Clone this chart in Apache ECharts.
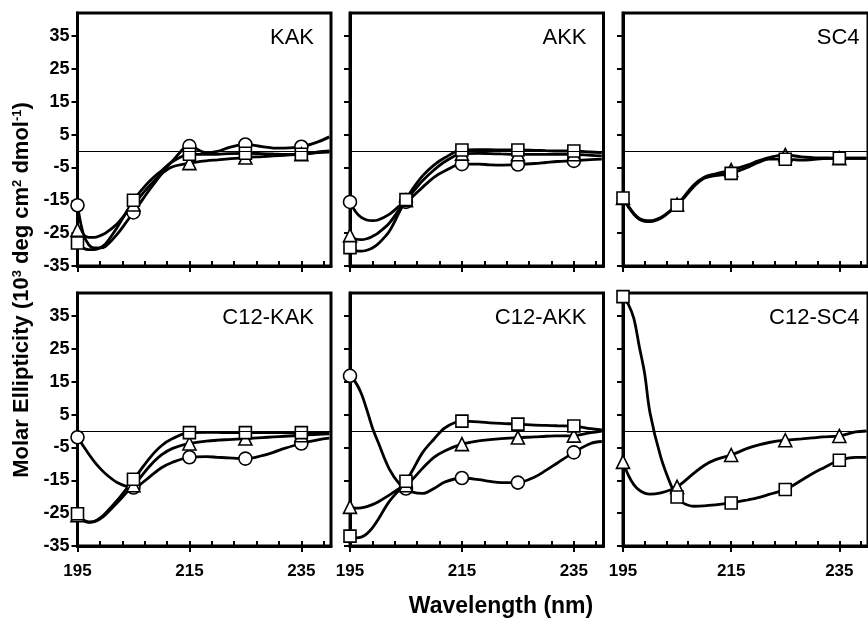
<!DOCTYPE html>
<html><head><meta charset="utf-8">
<script src="https://cdn.jsdelivr.net/npm/echarts@6/dist/echarts.min.js"></script>
<style>html,body{margin:0;padding:0;background:#fff}#c{width:868px;height:619px}</style>
</head><body><div id="c"></div>
<script>
// ---- data (10^3 deg cm^2 dmol^-1) ----
const wavelengths = [195,196,197,198,199,200,202,204,205,206,208,210,212,215,218,220,222,225,228,230,232,235,238,240];
const markerWavelengths = [195,205,215,225,235];

const kakCircle   = [-16.5,-25,-28.5,-29.5,-29.5,-29,-25.5,-21,-18.7,-16.3,-11.5,-7,-3,1.5,-0.5,-0.1,1,2,1.3,0.9,0.9,1.3,2.8,4.3];
const kakTriangle = [-24,-25.5,-26.3,-26.3,-25.8,-25,-22.3,-18.3,-16.3,-14.3,-10.3,-7,-4.8,-3.7,-3,-2.7,-2.4,-2,-1.7,-1.5,-1.3,-1,-0.5,-0.3];
const kakSquare   = [-28,-29.5,-30,-30,-29.5,-28.3,-23.5,-17.8,-15,-12.8,-9,-6,-3.2,-1,-1,-1,-0.8,-0.7,-0.8,-0.9,-1,-1,-0.3,0];

const akkCircle   = [-15.5,-18.5,-20.2,-21,-21.2,-21,-19.3,-16.5,-15.5,-14.2,-11,-8,-6,-4,-4,-4.2,-4.3,-4.1,-3.8,-3.5,-3.2,-3,-2.6,-2.5];
const akkTriangle = [-25.7,-26.8,-27,-26.7,-26,-25,-22,-17.3,-15,-13,-9,-5.8,-3.2,-0.8,-0.7,-0.8,-0.9,-1,-1,-1,-1,-1,-1.3,-1.5];
const akkSquare   = [-29.4,-30.3,-30.5,-30.2,-29.5,-28.3,-24.5,-18,-14.8,-12,-7.5,-4.3,-2,0.3,0.4,0.4,0.3,0.3,0.2,0.1,0,0,-0.3,-0.5];

const sc4Triangle = [-14.3,-16.8,-19,-20.5,-21.1,-21.2,-20.2,-17.8,-16.3,-14.5,-10.5,-8,-7,-5.8,-4.3,-3,-2,-1.2,-1.8,-2,-2.1,-2.2,-2.2,-2.2];
const sc4Square   = [-14.3,-17,-19.3,-20.8,-21.4,-21.5,-20.5,-18,-16.5,-14.8,-11,-8.3,-7.5,-6.8,-5,-3.5,-2.5,-2.5,-2.8,-2.6,-2.3,-2.2,-2.2,-2.2];

const c12KakCircle   = [-1.9,-4.5,-7,-9.3,-11.3,-13,-15.6,-17,-17.2,-16.5,-13.8,-11.2,-9.5,-8,-7.8,-8,-8.2,-8.4,-7.5,-6.5,-5.3,-3.8,-2.7,-2.2];
const c12KakTriangle = [-25.6,-27.2,-27.8,-27.6,-26.8,-25.5,-22,-18.3,-16.5,-14.6,-10.5,-7.3,-5.3,-3.8,-3.1,-2.8,-2.6,-2.3,-2,-1.8,-1.6,-1.3,-1,-0.9];
const c12KakSquare   = [-25.2,-27,-27.7,-27.5,-26.5,-25,-21.3,-17,-14.7,-12.5,-8,-4.5,-2.3,-0.5,-0.4,-0.4,-0.5,-0.5,-0.5,-0.5,-0.5,-0.5,-0.4,-0.4];

const c12AkkCircle   = [16.8,14.8,11.5,6.5,1,-3.3,-11.5,-16.5,-17.5,-18.5,-19,-17.5,-15.5,-14.3,-14.8,-15.3,-15.7,-15.7,-14,-12,-9.8,-6.5,-3.8,-3.2];
const c12AkkTriangle = [-23.1,-23.5,-23.4,-23,-22.4,-21.6,-19.5,-17.3,-16.5,-15,-11.3,-8,-6,-4,-3,-2.6,-2.3,-2,-1.8,-1.6,-1.5,-1.4,-0.5,0];
const c12AkkSquare   = [-32,-32.5,-32.3,-31.3,-29.5,-27,-21.5,-17.5,-15.3,-12.5,-6.5,-2.5,1,3,2.8,2.5,2.3,2.1,1.8,1.7,1.6,1.5,0.7,0.3];

const c12Sc4Triangle = [-9.4,-13.5,-16.3,-18,-18.9,-19.2,-18.8,-17.8,-17,-15.8,-13,-10.5,-8.8,-7.3,-5.3,-4.3,-3.5,-2.8,-2.4,-2.1,-1.8,-1.5,-0.3,0];
const c12Sc4Square   = [40.9,38.5,34.3,25.8,17.5,5.5,-8,-17,-20.1,-21.8,-22.9,-22.8,-22.5,-21.9,-21,-20.3,-19.3,-17.8,-15,-13,-11.3,-8.9,-8,-8];

const panelNames = ['KAK','AKK','SC4','C12-KAK','C12-AKK','C12-SC4'];
const yTicks = [-35,-25,-15,-5,5,15,25,35];
const xLabelTicks = [195,215,235];
const xMinorTicks = [195,199,203,207,211,215,219,223,227,231,235,239];
const yTitle = ['Molar Ellipticity (10','3',' deg cm','2',' dmol','-1',')'];
const xTitle = 'Wavelength (nm)';

const panelCurves = [
  [['circle',kakCircle],['triangle',kakTriangle],['rect',kakSquare]],
  [['circle',akkCircle],['triangle',akkTriangle],['rect',akkSquare]],
  [['triangle',sc4Triangle],['rect',sc4Square]],
  [['circle',c12KakCircle],['triangle',c12KakTriangle],['rect',c12KakSquare]],
  [['circle',c12AkkCircle],['triangle',c12AkkTriangle],['rect',c12AkkSquare]],
  [['triangle',c12Sc4Triangle],['rect',c12Sc4Square]]
];

// ---- layout ----
const FONT = '"Liberation Sans", Arial, sans-serif';
const colLeft = [77.5, 350, 623];
const rowTop = [13, 293];
const W = 253.5, H = 253;
const X_MIN = 195, X_MAX = 240.3, Y_MIN = -35, Y_MAX = 42;
const SYM_SIZE = {circle: 13, rect: 12, triangle: 13};

const grid = [], xAxis = [], yAxis = [], series = [], graphic = [];
panelNames.forEach((name, i) => {
  const col = i % 3, row = Math.floor(i / 3);
  grid.push({left: colLeft[col], top: rowTop[row], width: W, height: H,
    show: true, borderColor: '#000', borderWidth: 3, backgroundColor: 'transparent'});
  xAxis.push({type: 'value', gridIndex: i, min: X_MIN, max: X_MAX, position: 'bottom',
    axisLine: {show: true, onZero: false, lineStyle: {color: '#000', width: 3}},
    axisTick: {show: true, inside: true, length: 5, customValues: xMinorTicks, lineStyle: {color: '#000', width: 2}},
    axisLabel: {show: row === 1, customValues: xLabelTicks, margin: 17, color: '#000',
      fontFamily: FONT, fontWeight: 'bold', fontSize: 17},
    splitLine: {show: false}});
  xAxis.push({type: 'value', gridIndex: i, min: X_MIN, max: X_MAX, position: 'bottom',
    axisLine: {show: false, onZero: false},
    axisTick: {show: true, inside: false, length: 6, customValues: xLabelTicks, lineStyle: {color: '#000', width: 2}},
    axisLabel: {show: false}, splitLine: {show: false}});
  yAxis.push({type: 'value', gridIndex: i, min: Y_MIN, max: Y_MAX, position: 'left',
    axisLine: {show: true, onZero: false, lineStyle: {color: '#000', width: 3}},
    axisTick: {show: true, inside: false, length: 6, customValues: yTicks, lineStyle: {color: '#000', width: 2}},
    axisLabel: {show: col === 0, customValues: yTicks, margin: 8, color: '#000',
      fontFamily: FONT, fontWeight: 'bold', fontSize: 18},
    splitLine: {show: false}});

  panelCurves[i].forEach(([shape, vals], k) => {
    const s = {type: 'line', xAxisIndex: 2 * i, yAxisIndex: i,
      data: wavelengths.map((w, j) => [w, vals[j]]),
      smooth: 0.35, showSymbol: false, symbol: 'none', clip: true, z: 2,
      lineStyle: {color: '#000', width: 2.8}};
    if (k === 0) {
      s.markLine = {silent: true, symbol: ['none', 'none'], label: {show: false},
        lineStyle: {color: '#000', width: 1, type: 'solid'}, data: [{yAxis: 0}]};
    }
    series.push(s);
  });
  panelCurves[i].forEach(([shape, vals]) => {
    series.push({type: 'scatter', xAxisIndex: 2 * i, yAxisIndex: i, z: 4,
      data: markerWavelengths.map(w => [w, vals[wavelengths.indexOf(w)]]),
      symbol: shape, symbolSize: SYM_SIZE[shape],
      itemStyle: {color: '#fff', borderColor: '#000', borderWidth: 1.6, opacity: 1}, clip: false});
  });

  graphic.push({type: 'text', x: colLeft[col] + W - 17, y: rowTop[row] + 25, z: 10,
    style: {text: name, font: '22px ' + FONT, fill: '#000', align: 'right', verticalAlign: 'middle'}});
});

graphic.push({type: 'text', x: 501, y: 607, z: 10,
  style: {text: xTitle, font: 'bold 23px ' + FONT, fill: '#000', align: 'center', verticalAlign: 'middle'}});
graphic.push({type: 'text', x: 22, y: 290, rotation: Math.PI / 2, z: 10,
  style: {
    text: yTitle.map((t, k) => k % 2 === 0 ? '{n|' + t + '}' : '{s|' + t + '}').join(''),
    align: 'center', verticalAlign: 'middle', fill: '#000',
    rich: {n: {fontFamily: FONT, fontWeight: 'bold', fontSize: 22, fill: '#000'},
           s: {fontFamily: FONT, fontWeight: 'bold', fontSize: 13, verticalAlign: 'top', fill: '#000'}}
  }});

const chart = echarts.init(document.getElementById('c'), null, {renderer: 'canvas'});
chart.setOption({animation: false, backgroundColor: '#fff', grid, xAxis, yAxis, series, graphic});
</script></body></html>
